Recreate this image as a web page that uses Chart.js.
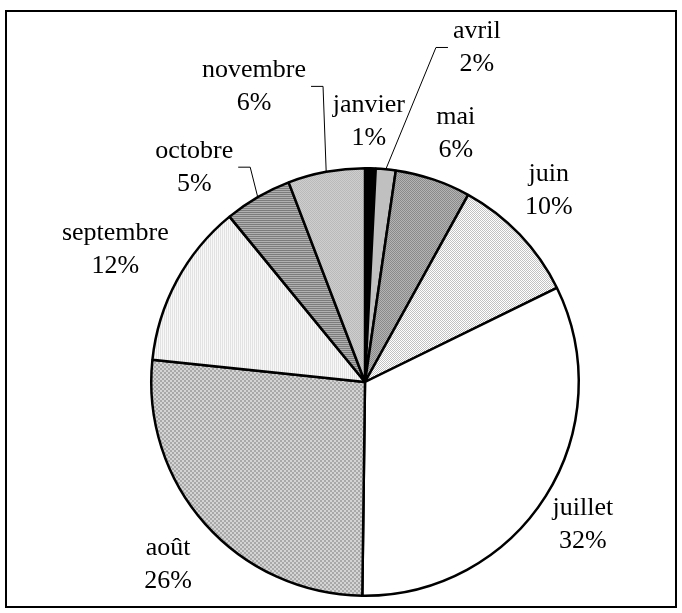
<!DOCTYPE html>
<html>
<head>
<meta charset="utf-8">
<script src="https://cdn.jsdelivr.net/npm/chart.js@4/dist/chart.umd.min.js"></script>
<style>
html,body{margin:0;padding:0;background:#fff;}
#wrap{position:relative;width:682px;height:613px;}
</style>
</head>
<body>
<div id="wrap"><canvas id="c" width="682" height="613"></canvas></div>
<script>
// ---- data (shares) ----
const categories = ['janvier','avril','mai','juin','juillet','août','septembre','octobre','novembre'];
const values = [0.8, 1.5, 5.7, 9.7, 32.4, 26.4, 12.4, 5.1, 5.8];
const percentLabels = ['1%','2%','6%','10%','32%','26%','12%','5%','6%'];

// ---- layout (label placement relative to pie centre, in radius units) ----
const labelOffsets = [
  [0.018, -1.22], [0.523, -1.565], [0.425, -1.164], [0.860, -0.897],
  [1.019, 0.668], [-0.921, 0.855], [-1.168, -0.617], [-0.799, -1.005], [-0.519, -1.383]
];
const leaderSide = [0, -1, 0, 0, 0, 0, 0, 1, 1]; // 1: line reaches label's right side, -1: left side

const ctx = document.getElementById('c').getContext('2d');
function pat(w, h, fn){
  const c = document.createElement('canvas'); c.width = w; c.height = h;
  const x = c.getContext('2d'); fn(x); return ctx.createPattern(c, 'repeat');
}
function px(x, col, i, j, w, h){ x.fillStyle = col; x.fillRect(i, j, w||1, h||1); }

const fills = [
  '#000000',
  '#c0c0c0',
  pat(2,2,x=>{px(x,'#b4b4b4',0,0,2,2);px(x,'#8a8a8a',0,0);px(x,'#8a8a8a',1,1);}),
  pat(2,2,x=>{px(x,'#ffffff',0,0,2,2);px(x,'#c2c2c2',0,0);px(x,'#c2c2c2',1,1);}),
  '#ffffff',
  pat(4,4,x=>{px(x,'#d4d4d4',0,0,4,4);px(x,'#a8a8a8',0,0,2,2);px(x,'#a8a8a8',2,2,2,2);}),
  pat(2,2,x=>{px(x,'#f8f8f8',0,0,2,2);px(x,'#e2e2e2',0,0,1,2);}),
  pat(2,2,x=>{px(x,'#b0b0b0',0,0,2,2);px(x,'#7c7c7c',0,0,2,1);}),
  pat(2,2,x=>{px(x,'#cecece',0,0,2,2);px(x,'#bababa',0,0);px(x,'#bababa',1,1);})
];

const FONT = '26px "Liberation Serif", "Times New Roman", serif';
const LINE = 33;

const frame = {
  id: 'frame',
  beforeDraw(chart){
    const c = chart.ctx;
    c.save();
    c.fillStyle = '#fff'; c.fillRect(0,0,chart.width,chart.height);
    c.strokeStyle = '#000'; c.lineWidth = 2;
    c.strokeRect(6, 11, 670, 596);
    c.restore();
  }
};

const labels = {
  id: 'pieLabels',
  afterDatasetsDraw(chart){
    const c = chart.ctx;
    const meta = chart.getDatasetMeta(0);
    c.save();
    c.font = FONT; c.fillStyle = '#000'; c.textAlign = 'center'; c.textBaseline = 'middle';
    meta.data.forEach((arc, i) => {
      const p = arc.getProps(['x','y','startAngle','endAngle','outerRadius'], true);
      const R = p.outerRadius;
      const lx = p.x + labelOffsets[i][0]*R;
      const ly = p.y + labelOffsets[i][1]*R;
      c.fillText(categories[i], lx, ly - LINE/2);
      c.fillText(percentLabels[i], lx, ly + LINE/2);
      if (leaderSide[i]) {
        const mid = (p.startAngle + p.endAngle)/2;
        const ex = p.x + Math.cos(mid)*R, ey = p.y + Math.sin(mid)*R;
        const hw = Math.max(c.measureText(categories[i]).width, c.measureText(percentLabels[i]).width)/2;
        const s = leaderSide[i];
        const elbowX = lx + s*(hw + 17), endX = lx + s*(hw + 5);
        c.strokeStyle = '#000'; c.lineWidth = 1;
        c.beginPath(); c.moveTo(ex, ey); c.lineTo(elbowX, ly); c.lineTo(endX, ly); c.stroke();
      }
    });
    c.restore();
  }
};

new Chart(ctx, {
  type: 'pie',
  data: {
    labels: categories,
    datasets: [{
      data: values,
      backgroundColor: fills,
      borderColor: '#000',
      borderWidth: 2.5,
      borderAlign: 'center'
    }]
  },
  options: {
    responsive: false,
    animation: false,
    layout: { padding: { left: 150, right: 102, top: 167, bottom: 16 } },
    plugins: { legend: { display: false }, tooltip: { enabled: false } }
  },
  plugins: [frame, labels]
});
</script>
</body>
</html>
